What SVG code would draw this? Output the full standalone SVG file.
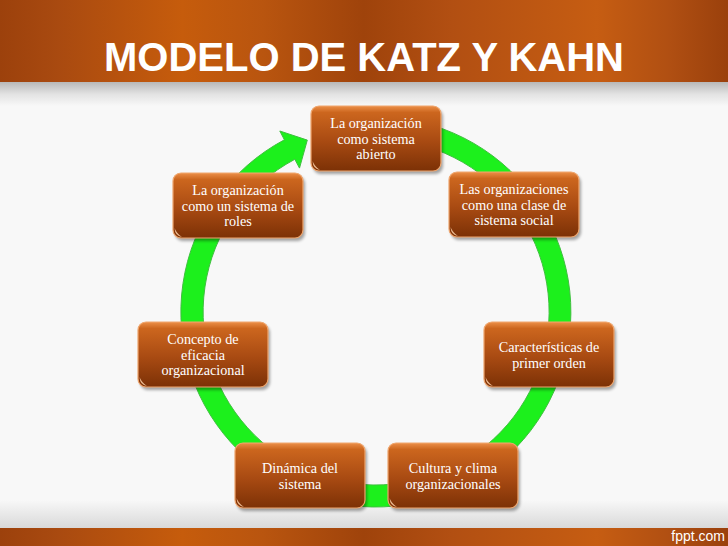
<svg xmlns="http://www.w3.org/2000/svg" width="728" height="546" viewBox="0 0 728 546">
  <defs>
    <linearGradient id="band" x1="0" y1="0" x2="1" y2="0">
      <stop offset="0" stop-color="#9c410c"/>
      <stop offset="0.08" stop-color="#a94a10"/>
      <stop offset="0.25" stop-color="#c65c0c"/>
      <stop offset="0.36" stop-color="#b9550f"/>
      <stop offset="0.5" stop-color="#9f430b"/>
      <stop offset="0.62" stop-color="#b24f12"/>
      <stop offset="0.82" stop-color="#c65d12"/>
      <stop offset="0.92" stop-color="#b04f12"/>
      <stop offset="1" stop-color="#9a400c"/>
    </linearGradient>
    <linearGradient id="topShade" x1="0" y1="0" x2="0" y2="1">
      <stop offset="0" stop-color="#b8b8b8"/>
      <stop offset="0.5" stop-color="#e2e2e2"/>
      <stop offset="1" stop-color="#f8f8f8"/>
    </linearGradient>
    <linearGradient id="botShade" x1="0" y1="0" x2="0" y2="1">
      <stop offset="0" stop-color="#f8f8f8"/>
      <stop offset="1" stop-color="#d9d9d9"/>
    </linearGradient>
    <linearGradient id="nodeFill" x1="0" y1="0" x2="0" y2="1">
      <stop offset="0" stop-color="#ec8f48"/>
      <stop offset="0.1" stop-color="#cc661e"/>
      <stop offset="0.55" stop-color="#a84a12"/>
      <stop offset="1" stop-color="#7c3106"/>
    </linearGradient>
    <filter id="shadow" x="-10%" y="-10%" width="130%" height="140%">
      <feGaussianBlur stdDeviation="1.6"/>
    </filter>
    <style>
      .title { font-family: "Liberation Sans", Arial, sans-serif; font-weight: bold; font-size: 40px; fill: #ffffff; }
      .foot { font-family: "Liberation Sans", Arial, sans-serif; font-size: 14px; fill: #ffffff; }
      .box { fill: url(#nodeFill); stroke: #efa66e; stroke-width: 1.2; }
      .shd { fill: #000000; opacity: 0.35; filter: url(#shadow); }
      .curl { fill: #f7c9a0; opacity: 0.9; }
      .lbl { font-family: "Liberation Serif", "Times New Roman", serif; font-size: 14.2px; fill: #ffffff; text-anchor: middle; }
      .ring { fill: #1cf01c; stroke: #3fbf3f; stroke-width: 1; }
    </style>
  </defs>

  <!-- background -->
  <rect x="0" y="0" width="728" height="546" fill="#f8f8f8"/>
  <rect x="0" y="82" width="728" height="24" fill="url(#topShade)"/>
  <rect x="0" y="500" width="728" height="28" fill="url(#botShade)"/>
  <rect x="0" y="0" width="728" height="82" fill="url(#band)"/>
  <rect x="0" y="528" width="728" height="18" fill="url(#band)"/>
  <text class="title" x="364" y="71" text-anchor="middle">MODELO DE KATZ Y KAHN</text>
  <text class="foot" x="725" y="541" text-anchor="end">fppt.com</text>

  <!-- connectors -->
  <g id="connectors">
    <path class="ring" d="M409.9,120.0 A195,195 0 1 1 284.4,139.8 L279.8,131.0 L307.3,140.1 L299.5,168.1 L294.8,159.3 A173,173 0 1 0 406.0,141.6 Z"/>
  </g>

  <!-- nodes -->
  <g id="node1">
    <rect class="shd" x="313" y="109" width="130" height="65" rx="8"/>
    <rect class="box" x="311" y="106" width="130" height="65" rx="8"/>
    <path class="curl" d="M312.5,161 Q313,169 320,170 Q315,167 312.5,161 Z"/>
    <text class="lbl" x="376" y="128">La organización</text>
    <text class="lbl" x="376" y="143.5">como sistema</text>
    <text class="lbl" x="376" y="159">abierto</text>
  </g>
  <g id="node2">
    <rect class="shd" x="451" y="175" width="130" height="65" rx="8"/>
    <rect class="box" x="449" y="172" width="130" height="65" rx="8"/>
    <path class="curl" d="M450.5,227 Q451,235 458,236 Q453,233 450.5,227 Z"/>
    <text class="lbl" x="514" y="194">Las organizaciones</text>
    <text class="lbl" x="514" y="209.5">como una clase de</text>
    <text class="lbl" x="514" y="225">sistema social</text>
  </g>
  <g id="node3">
    <rect class="shd" x="486" y="325" width="130" height="65" rx="8"/>
    <rect class="box" x="484" y="322" width="130" height="65" rx="8"/>
    <path class="curl" d="M485.5,377 Q486,385 493,386 Q488,383 485.5,377 Z"/>
    <text class="lbl" x="549" y="352">Características de</text>
    <text class="lbl" x="549" y="367.5">primer orden</text>
  </g>
  <g id="node4">
    <rect class="shd" x="390" y="446" width="130" height="65" rx="8"/>
    <rect class="box" x="388" y="443" width="130" height="65" rx="8"/>
    <path class="curl" d="M389.5,498 Q390,506 397,507 Q392,504 389.5,498 Z"/>
    <text class="lbl" x="453" y="473">Cultura y clima</text>
    <text class="lbl" x="453" y="488.5">organizacionales</text>
  </g>
  <g id="node5">
    <rect class="shd" x="237" y="446" width="130" height="65" rx="8"/>
    <rect class="box" x="235" y="443" width="130" height="65" rx="8"/>
    <path class="curl" d="M236.5,498 Q237,506 244,507 Q239,504 236.5,498 Z"/>
    <text class="lbl" x="300" y="473">Dinámica del</text>
    <text class="lbl" x="300" y="488.5">sistema</text>
  </g>
  <g id="node6">
    <rect class="shd" x="140" y="325" width="130" height="65" rx="8"/>
    <rect class="box" x="138" y="322" width="130" height="65" rx="8"/>
    <path class="curl" d="M139.5,377 Q140,385 147,386 Q142,383 139.5,377 Z"/>
    <text class="lbl" x="203" y="344">Concepto de</text>
    <text class="lbl" x="203" y="359.5">eficacia</text>
    <text class="lbl" x="203" y="375">organizacional</text>
  </g>
  <g id="node7">
    <rect class="shd" x="175" y="176" width="130" height="65" rx="8"/>
    <rect class="box" x="173" y="173" width="130" height="65" rx="8"/>
    <path class="curl" d="M174.5,228 Q175,236 182,237 Q177,234 174.5,228 Z"/>
    <text class="lbl" x="238" y="195">La organización</text>
    <text class="lbl" x="238" y="210.5">como un sistema de</text>
    <text class="lbl" x="238" y="226">roles</text>
  </g>
</svg>
